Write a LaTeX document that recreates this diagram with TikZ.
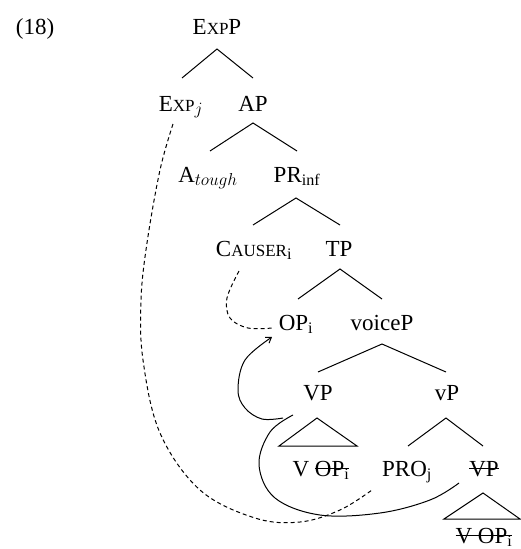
\documentclass[tikz,border=0pt]{standalone}
\usepackage{fontspec}
\setmainfont{Liberation Serif}
\usetikzlibrary{calc,arrows.meta}
\newcommand{\sml}[1]{{\fontsize{17}{17}\selectfont #1}}
\newcommand{\strk}[1]{\setbox0\hbox{#1}\rlap{\rule[0.3em]{\wd0}{0.9pt}}\box0}
\begin{document}
\begin{tikzpicture}[x=1pt,y=-1pt,
  lab/.style={font=\fontsize{23}{25}\selectfont, anchor=base, inner sep=0pt},
  edge/.style={line width=1pt},
  link/.style={line width=1pt, dash pattern=on 4pt off 3pt},
  mov/.style={line width=1pt}]
\useasboundingbox (0,0) rectangle (520,549);
\node[lab] (num) at (35,34) {(18)};
\node[lab] (ExpP) at (217,34) {E\sml{XP}P};
\node[lab] (Expj) at (181,111) {E\sml{XP}$_j$};
\node[lab] (AP) at (253,111) {AP};
\node[lab] (Atough) at (208,182) {A$_{tough}$};
\node[lab] (PRinf) at (297,182) {PR\textsubscript{inf}};
\node[lab] (Causer) at (254,256) {C\sml{AUSER}\textsubscript{i}};
\node[lab] (TP) at (339,256) {TP};
\node[lab] (OP) at (296,330) {OP\textsubscript{i}};
\node[lab] (voiceP) at (382,330) {voiceP};
\node[lab] (VP) at (318,400) {VP};
\node[lab] (vP) at (447,400) {vP};
\node[lab] (VOP) at (321,476) {V \strk{OP\textsubscript{i}}};
\node[lab] (PRO) at (407,476) {PRO\textsubscript{j}};
\node[lab] (VPs) at (484,476) {\strk{VP}};
\node[lab] (VOPb) at (484,543) {\strk{V OP\textsubscript{i}}};
% tree edges
\draw[edge] ($(Expj.base)+(1,-33)$) -- ($(ExpP.base)+(0,15)$) -- ($(AP.base)+(0,-33)$);
\draw[edge] ($(Atough.base)+(2,-31)$) -- ($(AP.base)+(0,12)$) -- ($(PRinf.base)+(0,-31)$);
\draw[edge] ($(Causer.base)+(-1,-31)$) -- ($(PRinf.base)+(-1,16)$) -- ($(TP.base)+(1,-31)$);
\draw[edge] ($(OP.base)+(2,-31)$) -- ($(TP.base)+(1,13)$) -- ($(voiceP.base)+(0,-31)$);
\draw[edge] ($(VP.base)+(0,-28)$) -- ($(voiceP.base)+(0,14)$) -- ($(vP.base)+(-1,-28)$);
\draw[edge] ($(VP.base)+(-1,18)$) -- ($(VP.base)+(-39,46)$) -- ($(VP.base)+(39,46)$) -- cycle;
\draw[edge] ($(PRO.base)+(1,-30)$) -- ($(vP.base)+(-1,18)$) -- ($(VPs.base)+(-1,-30)$);
\draw[edge] ($(VPs.base)+(-1,17)$) -- ($(VPs.base)+(-40,43)$) -- ($(VPs.base)+(36,43)$) -- cycle;
% links
\draw[link] plot[smooth, tension=0.6] coordinates {($(Expj.base)+(-8,13)$) (160,170) (147,243) (141,300) (143,360) (160,433) (200,490) (255,518) (300,522) (340,510) ($(PRO.base)+(-35,14)$)};
\draw[link] plot[smooth, tension=0.6] coordinates {($(Causer.base)+(-15,15)$) (227,298) (230,318) (248,328) ($(OP.base)+(-24,-2)$)};
\draw[mov,-{Straight Barb[length=5pt,width=7pt]}] plot[smooth, tension=0.6] coordinates {($(VP.base)+(-35,18)$) (262,419) (245,408) (238,390) (245,360) ($(OP.base)+(-24,7)$)};
\draw[mov] plot[smooth, tension=0.6] coordinates {($(VP.base)+(-25,15)$) (270,432) (259,465) (275,498) (320,515) (380,513) (430,500) ($(VPs.base)+(-25,7)$)};
\end{tikzpicture}
\end{document}
